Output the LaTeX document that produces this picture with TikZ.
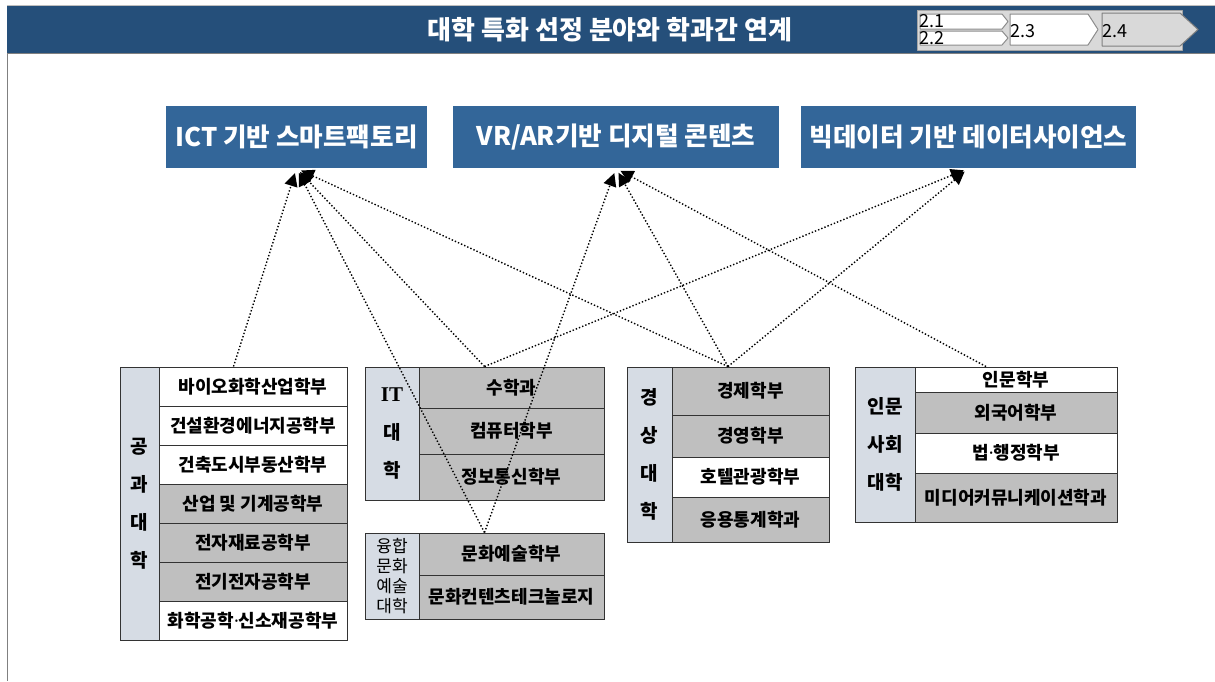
\documentclass[tikz,border=0pt]{standalone}
\usepackage{fontspec}
\setmainfont{Noto Sans CJK KR}
\newfontfamily\serifit{Liberation Serif}[BoldFont={Liberation Serif Bold}]
\newfontfamily\latinsans{Noto Sans}
\usetikzlibrary{arrows.meta}

\definecolor{hdrblue}{RGB}{37,79,122}
\definecolor{boxblue}{RGB}{51,102,153}
\definecolor{labgray}{RGB}{214,220,228}
\definecolor{rowgray}{RGB}{191,191,191}
\definecolor{navgray}{RGB}{217,217,217}

\begin{document}
\begin{tikzpicture}[x=0.5pt, y=-0.5pt, line join=round]
  \def\u{0.5pt} % 1px
  \tikzset{
    topbox/.style={fill=boxblue, text=white, inner sep=0pt, minimum height=62*\u, font=\fontsize{12.8}{14}\selectfont\bfseries},
    grp/.style={draw=black!80, line width=0.5pt, inner sep=0pt},
    lab/.style={draw=black!80, line width=0.5pt, fill=labgray, inner sep=0pt, align=center, font=\fontsize{9.5}{19}\selectfont\bfseries},
    row/.style={draw=black!80, line width=0.5pt, fill=rowgray, inner sep=0pt, font=\fontsize{9}{10}\selectfont\bfseries},
    wrow/.style={row, fill=white},
    link/.style={densely dotted, line width=0.7pt, -{Triangle[length=6.5pt, width=6.5pt]}, shorten >=2.5pt},
    navtab/.style={draw=black!45, line width=0.5pt, fill=white},
    navtxt/.style={anchor=west, inner sep=0pt, font=\fontsize{9}{9}\selectfont}
  }
  \useasboundingbox (0,0) rectangle (1215,681);

  % 머리글
  \fill[hdrblue] (7,6) rectangle (1215,53);
  \draw[black!25, line width=0.5pt] (7,5.5) -- (1215,5.5);
  \draw[black!50, line width=0.5pt] (7,53) -- (1215,53);
  \draw[black!50, line width=0.5pt] (7,53) -- (7,681);
  \node[text=white, font=\fontsize{13}{15}\selectfont\bfseries] (title) at (610,30) {대학 특화 선정 분야와 학과간 연계};

  % 단계 표시
  \filldraw[fill=navgray, draw=black!35, line width=0.5pt] (917,10) rectangle (1182,50);
  \draw[navtab] (920,14) -- (1002,14) -- (1008,21.5) -- (1002,29) -- (920,29) -- cycle;
  \draw[navtab] (920,31) -- (1002,31) -- (1008,38) -- (1002,45) -- (920,45) -- cycle;
  \draw[navtab] (1010,14) -- (1088,14) -- (1098,29.5) -- (1088,45) -- (1010,45) -- cycle;
  \draw[navtab, fill=navgray, draw=black!50] (1102,13) -- (1180,13) -- (1198,29.5) -- (1180,46) -- (1102,46) -- cycle;
  \node[navtxt] (n21) at (919,21.5) {2.1};
  \node[navtxt] (n22) at (919,38.5) {2.2};
  \node[navtxt] (n23) at (1010,31) {2.3};
  \node[navtxt] (n24) at (1102,31) {2.4};

  % 특화 분야
  \node[topbox, minimum width=261*\u] (ict) at (296.5,137) {ICT 기반 스마트팩토리};
  \node[topbox, minimum width=326*\u] (vr) at (616,137) {VR/AR기반 디지털 콘텐츠};
  \node[topbox, minimum width=335*\u] (big) at (968.5,137) {빅데이터 기반 데이터사이언스};

  % 공과대학
  \node[grp, minimum width=227*\u, minimum height=273*\u] (eng) at (233.5,503.5) {};
  \node[lab, minimum width=39*\u, minimum height=273*\u] (englab) at (139.5,503.5) {공\\과\\대\\학};
  \node[wrow, minimum width=188*\u, minimum height=39*\u] (eng1) at (253,386.5) {바이오화학산업학부};
  \node[wrow, minimum width=188*\u, minimum height=39*\u] (eng2) at (253,425.5) {건설환경에너지공학부};
  \node[wrow, minimum width=188*\u, minimum height=39*\u] (eng3) at (253,464.5) {건축도시부동산학부};
  \node[row, minimum width=188*\u, minimum height=39*\u] (eng4) at (253,503.5) {산업 및 기계공학부};
  \node[row, minimum width=188*\u, minimum height=39*\u] (eng5) at (253,542.5) {전자재료공학부};
  \node[row, minimum width=188*\u, minimum height=39*\u] (eng6) at (253,581.5) {전기전자공학부};
  \node[wrow, minimum width=188*\u, minimum height=39*\u] (eng7) at (253,620.5) {화학공학{\latinsans\bfseries ·}신소재공학부};

  % IT대학
  \node[grp, minimum width=239*\u, minimum height=133*\u] (it) at (484.5,433.5) {};
  \node[lab, minimum width=54*\u, minimum height=133*\u] (itlab) at (392,433.5) {{\serifit\bfseries\fontsize{10.5}{19}\selectfont IT}\\대\\학};
  \node[row, minimum width=185*\u, minimum height=41*\u] (it1) at (511.5,387.5) {수학과};
  \node[row, minimum width=185*\u, minimum height=46*\u] (it2) at (511.5,431) {컴퓨터학부};
  \node[row, minimum width=185*\u, minimum height=46*\u] (it3) at (511.5,477) {정보통신학부};

  % 융합문화예술대학
  \node[grp, minimum width=239*\u, minimum height=86*\u] (art) at (484.5,576) {};
  \node[lab, minimum width=54*\u, minimum height=86*\u, font=\fontsize{8.5}{10}\selectfont] (artlab) at (392,576) {융합\\문화\\예술\\대학};
  \node[row, minimum width=185*\u, minimum height=42*\u] (art1) at (511.5,554) {문화예술학부};
  \node[row, minimum width=185*\u, minimum height=44*\u] (art2) at (511.5,597) {문화컨텐츠테크놀로지};

  % 경상대학
  \node[grp, minimum width=202*\u, minimum height=175*\u] (biz) at (728,454.5) {};
  \node[lab, minimum width=45*\u, minimum height=175*\u] (bizlab) at (649.5,454.5) {경\\상\\대\\학};
  \node[row, minimum width=157*\u, minimum height=48*\u] (biz1) at (750.5,391) {경제학부};
  \node[row, minimum width=157*\u, minimum height=42*\u] (biz2) at (750.5,436) {경영학부};
  \node[wrow, minimum width=157*\u, minimum height=40*\u] (biz3) at (750.5,477) {호텔관광학부};
  \node[row, minimum width=157*\u, minimum height=45*\u] (biz4) at (750.5,519.5) {응용통계학과};

  % 인문사회대학
  \node[grp, minimum width=262*\u, minimum height=155*\u] (hum) at (986,444.5) {};
  \node[lab, minimum width=60*\u, minimum height=155*\u] (humlab) at (885,444.5) {인문\\사회\\대학};
  \node[wrow, minimum width=202*\u, minimum height=25*\u] (hum1) at (1016,379.5) {인문학부};
  \node[row, minimum width=202*\u, minimum height=41*\u] (hum2) at (1016,412.5) {외국어학부};
  \node[wrow, minimum width=202*\u, minimum height=40*\u] (hum3) at (1016,453) {법{\latinsans\bfseries ·}행정학부};
  \node[row, minimum width=202*\u, minimum height=49*\u] (hum4) at (1016,497.5) {미디어커뮤니케이션학과};

  % 연계
  \draw[link] (eng.north) -- (ict.south);
  \draw[link] (it.north) -- (ict.south);
  \draw[link] (it.north) -- (big.south);
  \draw[link] (art.north) -- (ict.south);
  \draw[link] (art.north) -- (vr.south);
  \draw[link] (biz.north) -- (ict.south);
  \draw[link] (biz.north) -- (vr.south);
  \draw[link] (biz.north) -- (big.south);
  \draw[link] (hum.north) -- (vr.south);
\end{tikzpicture}
\end{document}
